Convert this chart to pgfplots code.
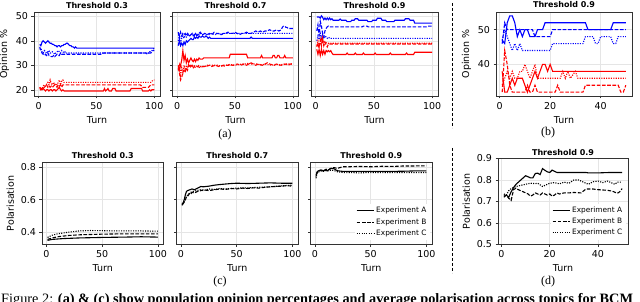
\documentclass[border=0pt]{standalone}
\usepackage{fontspec}
\setmainfont{Liberation Serif}
\newfontfamily\dejavu{DejaVu Sans}
\usepackage{pgfplots}
\pgfplotsset{compat=1.18}
\pgfplotsset{
  base/.style={scale only axis, anchor=south west,
    axis line style={black!80, line width=0.6pt},
    tick style={black!80, line width=0.5pt}, tick align=outside, major tick length=2.5pt,
    xtick pos=left, ytick pos=left,
    grid=major, major grid style={black!10, line width=0.5pt},
    tick label style={font=\fontsize{9.5}{10}\dejavu},
    label style={font=\fontsize{9.5}{10}\dejavu},
    every axis title/.style={at={(0.5,1)}, anchor=base, yshift=4pt, inner sep=0pt, font=\fontsize{8}{9}\dejavu\bfseries},
    /pgf/number format/assume math mode=true,
    every axis plot/.append style={line width=1.1pt},
    legend style={font=\fontsize{7.4}{8.5}\dejavu, draw=none, fill=white, inner sep=1.5pt, row sep=0pt},
    legend cell align=left,
    legend image code/.code={\draw[##1, line width=1pt] (0pt,0pt) -- (17pt,0pt);},
  },
  sA/.style={solid},
  sB/.style={dash pattern=on 3.6pt off 1.6pt},
  sC/.style={dash pattern=on 1.1pt off 1.3pt},
  toprow/.style={height=83.5pt, xmin=-3.95, xmax=104.95, ymin=17.45, ymax=51.55, xtick={0,50,100}, ytick={20,30,40,50}, xlabel={Turn}},
  botrow/.style={height=82pt, width=121.5pt, xmin=-3.95, xmax=104.95, ymin=0.327, ymax=0.826, xtick={0,50,100}, ytick={0.4,0.6,0.8}, xlabel={Turn},
    yticklabel style={/pgf/number format/.cd, fixed, precision=1, fixed zerofill}},
}
\begin{document}
\begin{tikzpicture}[x=1pt,y=1pt]
% ---------------- (a) Threshold 0.3
\begin{axis}[base, toprow, at={(34pt,206pt)}, width=126pt, title={Threshold 0.3}, ylabel={Opinion \%}]
\addplot[blue, sA] coordinates {(1,38.5)(2,38)(3,39.5)(4,40)(5,39.5)(6,39)(7,39.5)(8,40)(9,39.5)(10,39)(11,39)(12,38.5)(13,38.5)(14,38)(15,38)(16,37.5)(17,38)(18,38)(19,37.5)(20,38)(21,38)(22,38.5)(23,38.5)(24,39)(25,39)(26,38.5)(27,38)(28,38)(29,37.5)(30,37.5)(31,37)(32,37.5)(33,37)(34,37)(100,37)};
\addplot[blue, sB] coordinates {(1,37.5)(2,36)(3,35)(4,34.5)(5,34)(6,34.5)(7,34)(8,35)(9,34)(10,34)(11,33.5)(12,33.5)(13,34)(14,33.5)(15,34)(16,34.5)(17,34)(18,34)(19,35)(20,34.5)(21,34.5)(55,34.5)(56,35)(93,35)(94,34.5)(95,35)(97,35)(98,35.5)(99,36)(100,36)};
\addplot[blue, sC] coordinates {(1,36.5)(2,37)(3,35.5)(4,35)(5,36)(6,35.5)(7,35)(8,35.5)(9,36)(10,35)(11,35)(12,35.5)(13,35)(14,34.5)(15,35)(16,35.5)(17,36)(18,35.5)(19,35)(20,36)(21,35.5)(22,35)(23,35.5)(24,35)(25,35)(95,35)(96,35.5)(97,35.5)(98,36)(99,36.5)(100,37)};
\addplot[red, sA] coordinates {(1,21)(2,20.5)(3,20)(4,20.5)(5,20)(6,19.5)(7,20)(8,20)(9,19.5)(10,20)(11,20)(12,19.5)(13,20)(14,20)(15,19.5)(16,20)(17,20.5)(18,21)(19,20)(20,19.5)(21,20)(22,19.5)(23,19.5)(56,19.5)(57,20.5)(58,19.5)(60,20.5)(61,19.5)(63,19.5)(64,20.5)(66,20.5)(67,19.5)(79,19.5)(80,20.5)(89,20.5)(90,19.5)(95,19.5)(96,20)(97,19.5)(98,20)(100,20)};
\addplot[red, sB] coordinates {(1,20.5)(2,20)(3,21)(4,20.5)(5,21)(6,21.5)(7,22)(8,21)(9,21.5)(10,21)(11,21.5)(12,21)(13,21.5)(14,22)(15,21.5)(16,21)(17,22)(18,21.5)(19,22)(20,21)(21,22)(88,22)(89,21.5)(90,21)(95,21)(96,21.5)(97,22)(100,22)};
\addplot[red, sC] coordinates {(1,21)(2,20)(3,20.5)(4,21.5)(5,22)(6,21.5)(7,22.5)(8,23)(9,22)(10,24)(11,22.5)(12,22)(13,23)(14,22)(15,22.5)(16,22)(17,23)(18,24)(19,22)(20,23.5)(21,24)(22,23)(97,23)(98,23.5)(99,24)(100,24)};
\end{axis}
% ---------------- (a) Threshold 0.7
\begin{axis}[base, toprow, at={(172.5pt,206pt)}, width=126pt, title={Threshold 0.7}, yticklabels={}]
\addplot[blue, sA] coordinates {(1,38)(2,40)(3,38)(4,39)(5,38)(6,39.5)(7,38.5)(8,40)(9,39.5)(10,40)(11,40.5)(12,41)(13,40.5)(14,40.5)(15,41.5)(16,41)(17,41.5)(18,41)(19,42)(20,41.5)(21,41.5)(22,42)(23,41.5)(24,41.5)(25,42)(26,41.5)(27,41)(28,41.5)(29,41)(63,41)(64,41.5)(65,41)(100,41)};
\addplot[blue, sB] coordinates {(1,43.5)(2,41)(3,43.5)(4,42)(5,43)(6,42.5)(7,43)(8,42)(9,43)(10,42.5)(11,42)(12,42.5)(13,43)(14,42)(15,42.5)(16,43)(17,42)(18,42.5)(19,43)(20,43.5)(21,43)(22,42.5)(24,43)(26,42.5)(28,43)(30,42.5)(32,43.5)(34,43)(36,43)(38,42.5)(40,43)(42,43)(44,43.5)(46,43)(48,43)(50,43.5)(52,43)(54,42.5)(56,43)(58,43)(60,43.5)(62,43)(64,43)(66,43.5)(68,44)(70,43.5)(72,44)(74,43.5)(76,44)(78,44)(80,44.5)(82,44)(84,44)(86,44.5)(88,44)(90,44.5)(91,45.5)(92,46)(93,46)(94,45.5)(95,45.5)(96,45)(98,45)(100,45)};
\addplot[blue, sC] coordinates {(1,40)(2,42)(3,39)(4,41)(5,42)(6,41)(7,42.5)(8,41.5)(9,42)(10,42.5)(11,42)(12,42.5)(13,43)(14,42.5)(15,42)(16,43)(17,42.5)(18,43)(19,42.5)(20,43)(22,42.5)(24,43)(26,42.5)(28,42.5)(30,43)(33,42.5)(36,43)(38,42.5)(40,43)(100,43)};
\addplot[red, sA] coordinates {(1,30)(2,28)(3,30)(4,32)(5,36)(6,32)(7,34)(8,31)(9,32.5)(10,31)(11,32)(12,33)(13,32)(14,31.5)(15,32.5)(16,31.5)(17,32.5)(18,32)(19,33)(20,32.5)(22,32.5)(23,33)(45,33)(46,34.5)(60,34.5)(61,33)(72,33)(73,34)(74,33)(82,33)(83,34)(84,34)(85,33)(86,33)(87,34)(88,34)(89,33)(92,33)(93,34)(94,33)(100,33)};
\addplot[red, sB] coordinates {(1,29)(2,27)(3,24)(4,25)(5,27)(6,28)(7,27)(8,29)(9,28)(10,30)(11,29)(12,29.5)(13,30)(14,29)(15,29.5)(16,29)(18,29.5)(20,29)(22,29.5)(25,29.5)(28,30)(30,29.5)(33,30)(36,29.5)(40,30)(44,30)(46,30.5)(48,30)(52,30.5)(55,30)(58,30.5)(60,30)(62,30.5)(64,31)(66,30.5)(68,30)(70,30.5)(74,30)(76,30.5)(78,31)(80,30.5)(84,30)(86,30.5)(90,30)(94,30.5)(96,30)(98,30.5)(100,30.5)};
\addplot[red, sC] coordinates {(1,28)(2,30)(3,26)(4,29)(5,27)(6,30)(7,28.5)(8,29.5)(9,29)(10,30.5)(11,29.5)(12,30)(13,29.5)(14,30)(16,29.5)(18,30)(20,29.5)(24,29.5)(26,30)(30,30)(35,30)(40,29.5)(42,30)(50,30)(56,30.5)(60,30.5)(62,31)(63,30.5)(70,30.5)(72,30)(76,30.5)(82,30)(86,30.5)(88,30)(92,30.5)(100,30.5)};
\end{axis}
% ---------------- (a) Threshold 0.9
\begin{axis}[base, toprow, at={(311pt,206pt)}, width=127pt, title={Threshold 0.9}, yticklabels={}]
\addplot[blue, sA] coordinates {(1,49.7)(3,49.7)(4,49.3)(5,50.2)(6,49.6)(7,48.6)(8,49.3)(9,48.6)(10,49.3)(11,48.6)(12,49.3)(13,48.6)(14,49)(15,48.4)(20,48.4)(21,48.9)(22,48.4)(26,48.4)(27,47.8)(30,47.8)(31,48.4)(33,48.4)(34,49)(36,49)(37,48.4)(44,48.4)(45,47.8)(48,47.8)(49,48.4)(52,48.4)(53,49.2)(56,49.2)(57,48.4)(60,48.4)(61,47.8)(67,47.8)(68,48.4)(76,48.4)(77,49)(80,49)(81,48.4)(84,48.4)(85,47.2)(100,47.2)};
\addplot[blue, sB] coordinates {(1,44)(2,46.5)(3,42)(4,48)(5,46)(6,43)(7,41.5)(8,44)(9,45)(10,45.7)(11,46)(12,45.7)(40,45.7)(41,46)(44,46)(45,45.7)(95,45.7)(96,46)(100,46)};
\addplot[blue, sC] coordinates {(1,40)(2,42)(3,40.5)(4,43)(5,41)(6,42.5)(7,41)(8,42)(9,41.5)(10,41)(11,41.5)(12,41)(100,41)};
\addplot[red, sA] coordinates {(1,36.5)(2,34.5)(3,36.5)(4,34)(5,36.5)(6,34.5)(7,36)(8,34.5)(9,36)(10,35.5)(11,36)(12,35.5)(13,36)(14,35)(15,34.4)(26,34.4)(27,35)(28,34.4)(33,34.4)(34,35)(35,34.4)(40,34.4)(41,35)(42,34.4)(50,34.4)(51,35)(52,34.4)(63,34.4)(64,35)(65,34.4)(77,34.4)(78,35)(79,34.4)(84,34.4)(85,35.3)(100,35.3)};
\addplot[red, sB] coordinates {(1,37.5)(2,39)(3,37)(4,40.5)(5,38)(6,41)(7,38)(8,39.5)(9,38.5)(10,37.5)(11,38.7)(100,38.7)};
\addplot[red, sC] coordinates {(1,38)(2,40)(3,38.5)(4,39)(5,41)(6,39)(7,40)(8,38.5)(9,39.2)(10,39)(100,39)};
\end{axis}
% ---------------- (b) Threshold 0.9
\begin{axis}[base, at={(496pt,206pt)}, width=136pt, height=84pt, xmin=-1.45, xmax=52.45, ymin=30.9, ymax=55.1, xtick={0,20,40}, ytick={40,50}, xlabel={Turn}, ylabel={Opinion \%}, title={Threshold 0.9}]
\addplot[blue, sA] coordinates {(1,47)(2,46)(3,52)(4,54)(5,54)(6,52)(7,48)(8,50)(9,48)(10,50)(11,50)(12,48)(14,48)(15,50)(17,50)(18,52)(34,52)(35,50)(44,50)(45,52)(50,52)};
\addplot[blue, sB] coordinates {(1,46)(2,52)(3,50)(13,50)(14,48)(20,48)(21,50)(50,50)};
\addplot[blue, sC] coordinates {(1,47)(2,50)(3,48)(4,46)(5,44)(6,46)(7,44)(8,46)(9,44)(13,44)(20,44)(21,46)(33,46)(34,48)(37,48)(38,46)(39,46)(40,48)(44,48)(45,46)(46,46)(47,48)(50,48)};
\addplot[red, sA] coordinates {(1,38)(2,32)(3,32)(4,34)(5,36)(6,34)(7,36)(8,36)(9,36)(10,34)(11,32)(12,34)(13,36)(14,38)(15,36)(16,38)(17,40)(18,40)(19,38)(20,40)(21,38)(50,38)};
\addplot[red, sB] coordinates {(1,32)(2,44)(3,40)(4,34)(5,32)(10,32)(11,34)(12,32)(13,32)(14,34)(15,32)(22,32)(23,34)(24,32)(33,32)(34,34)(47,34)(48,32)(49,32)(50,34)};
\addplot[red, sC] coordinates {(1,34)(2,36)(3,38)(4,36)(5,38)(6,36)(7,36)(8,38)(9,38)(10,40)(11,38)(12,36)(13,38)(14,40)(15,36)(24,36)(25,38)(26,36)(27,38)(28,36)(30,38)(31,36)(50,36)};
\end{axis}
% ---------------- (c) Threshold 0.3
\begin{axis}[base, botrow, at={(42pt,57.5pt)}, title={Threshold 0.3}, ylabel={Polarisation}]
\addplot[black, sA] coordinates {(1,0.352)(5,0.358)(15,0.363)(30,0.367)(50,0.37)(70,0.372)(85,0.374)(100,0.372)};
\addplot[black, sB] coordinates {(1,0.358)(5,0.366)(10,0.374)(20,0.382)(30,0.386)(50,0.39)(70,0.392)(100,0.392)};
\addplot[black, sC] coordinates {(1,0.37)(5,0.383)(10,0.392)(20,0.402)(30,0.41)(40,0.412)(60,0.41)(80,0.41)(100,0.408)};
\end{axis}
% ---------------- (c) Threshold 0.7
\begin{axis}[base, botrow, at={(176.5pt,57.5pt)}, title={Threshold 0.7}, yticklabels={}]
\addplot[black, sA] coordinates {(1,0.565)(2,0.58)(3,0.60)(4,0.63)(5,0.65)(6,0.655)(8,0.66)(10,0.665)(12,0.66)(15,0.67)(18,0.68)(20,0.678)(25,0.682)(30,0.688)(35,0.692)(40,0.695)(45,0.698)(50,0.7)(60,0.698)(70,0.7)(80,0.702)(90,0.70)(100,0.7)};
\addplot[black, sB] coordinates {(1,0.57)(2,0.575)(3,0.585)(4,0.6)(5,0.615)(6,0.62)(7,0.63)(8,0.64)(9,0.635)(10,0.645)(12,0.64)(15,0.65)(18,0.655)(20,0.66)(25,0.655)(30,0.66)(35,0.665)(40,0.662)(45,0.668)(50,0.665)(55,0.67)(60,0.668)(65,0.672)(70,0.67)(75,0.675)(80,0.678)(85,0.68)(90,0.682)(95,0.685)(100,0.682)};
\addplot[black, sC] coordinates {(1,0.575)(3,0.59)(5,0.62)(7,0.635)(9,0.645)(11,0.65)(14,0.655)(17,0.66)(20,0.655)(25,0.665)(30,0.662)(35,0.668)(40,0.665)(50,0.67)(60,0.672)(70,0.675)(80,0.678)(90,0.684)(100,0.688)};
\end{axis}
% ---------------- (c) Threshold 0.9
\begin{axis}[base, botrow, at={(310.5pt,57.5pt)}, title={Threshold 0.9}, yticklabels={},
  legend style={at={(0.985,0.05)}, anchor=south east}]
\addplot[black, sA] coordinates {(1,0.74)(2,0.77)(3,0.775)(5,0.78)(7,0.775)(9,0.78)(11,0.775)(13,0.785)(15,0.79)(17,0.788)(19,0.78)(21,0.775)(25,0.772)(30,0.772)(40,0.772)(50,0.772)(60,0.772)(70,0.772)(80,0.773)(90,0.775)(100,0.775)};
\addlegendentry{Experiment A}
\addplot[black, sB] coordinates {(1,0.75)(2,0.765)(4,0.775)(6,0.78)(8,0.775)(10,0.785)(12,0.78)(14,0.79)(17,0.795)(20,0.79)(25,0.8)(30,0.8)(40,0.802)(50,0.8)(60,0.803)(70,0.802)(80,0.805)(90,0.805)(100,0.806)};
\addlegendentry{Experiment B}
\addplot[black, sC] coordinates {(1,0.73)(2,0.765)(4,0.77)(6,0.775)(8,0.772)(10,0.778)(12,0.775)(15,0.78)(18,0.775)(20,0.77)(25,0.765)(30,0.765)(40,0.763)(50,0.765)(60,0.765)(70,0.765)(80,0.765)(90,0.765)(100,0.765)};
\addlegendentry{Experiment C}
\end{axis}
% ---------------- (d) Threshold 0.9
\begin{axis}[base, at={(498pt,57.5pt)}, width=130pt, height=86pt, xmin=-1.45, xmax=52.45, ymin=0.5, ymax=0.9, xtick={0,20,40}, ytick={0.5,0.6,0.7,0.8,0.9}, xlabel={Turn}, ylabel={Polarisation}, title={Threshold 0.9},
  title style={yshift=-1pt},
  yticklabel style={/pgf/number format/.cd, fixed, precision=1, fixed zerofill},
  legend style={at={(0.985,0.05)}, anchor=south east}]
\addplot[black, sA] coordinates {(1,0.725)(2,0.73)(3,0.72)(4,0.745)(5,0.765)(6,0.78)(7,0.79)(8,0.80)(9,0.81)(10,0.82)(11,0.815)(12,0.81)(13,0.81)(14,0.83)(15,0.832)(16,0.825)(17,0.853)(18,0.845)(19,0.838)(20,0.835)(21,0.846)(22,0.84)(23,0.835)(35,0.835)(36,0.833)(40,0.833)(45,0.835)(50,0.835)};
\addlegendentry{Experiment A}
\addplot[black, sB] coordinates {(1,0.72)(2,0.73)(3,0.715)(4,0.705)(5,0.755)(6,0.762)(7,0.755)(8,0.75)(9,0.745)(10,0.74)(11,0.735)(12,0.725)(13,0.73)(14,0.74)(15,0.735)(16,0.73)(17,0.74)(18,0.735)(19,0.73)(20,0.735)(21,0.725)(22,0.73)(23,0.74)(24,0.735)(26,0.74)(28,0.74)(30,0.742)(33,0.74)(35,0.758)(38,0.758)(40,0.755)(44,0.752)(46,0.748)(48,0.738)(49,0.745)(50,0.76)};
\addlegendentry{Experiment B}
\addplot[black, sC] coordinates {(1,0.735)(2,0.73)(3,0.75)(4,0.76)(5,0.765)(6,0.77)(8,0.775)(10,0.78)(12,0.785)(14,0.783)(15,0.785)(17,0.77)(19,0.78)(20,0.785)(22,0.788)(24,0.782)(26,0.79)(28,0.785)(30,0.80)(32,0.80)(34,0.79)(36,0.78)(38,0.792)(40,0.795)(42,0.788)(44,0.795)(46,0.785)(47,0.78)(48,0.79)(50,0.79)};
\addlegendentry{Experiment C}
\end{axis}
% ---------------- separators and captions
\draw[black, line width=0.9pt, dash pattern=on 3pt off 2pt] (452pt,299pt) -- (452pt,174pt);
\draw[black, line width=0.9pt, dash pattern=on 3pt off 2pt] (452pt,154pt) -- (452pt,29pt);
\node[font=\fontsize{12}{14}\selectfont] at (225pt,167pt) {(a)};
\node[font=\fontsize{12}{14}\selectfont] at (548pt,169pt) {(b)};
\node[font=\fontsize{12}{14}\selectfont] at (220pt,20pt) {(c)};
\node[font=\fontsize{12}{14}\selectfont] at (548pt,20pt) {(d)};
\node[anchor=base west, inner sep=0pt, font=\fontsize{14.3}{16}\selectfont] at (1pt,-1.8pt) {Figure 2: \textbf{(a) \& (c) show population opinion percentages and average polarisation across topics for BCM}};
\pgfresetboundingbox
\path[use as bounding box] (0pt,0pt) rectangle (640pt,302pt);
\end{tikzpicture}
\end{document}
